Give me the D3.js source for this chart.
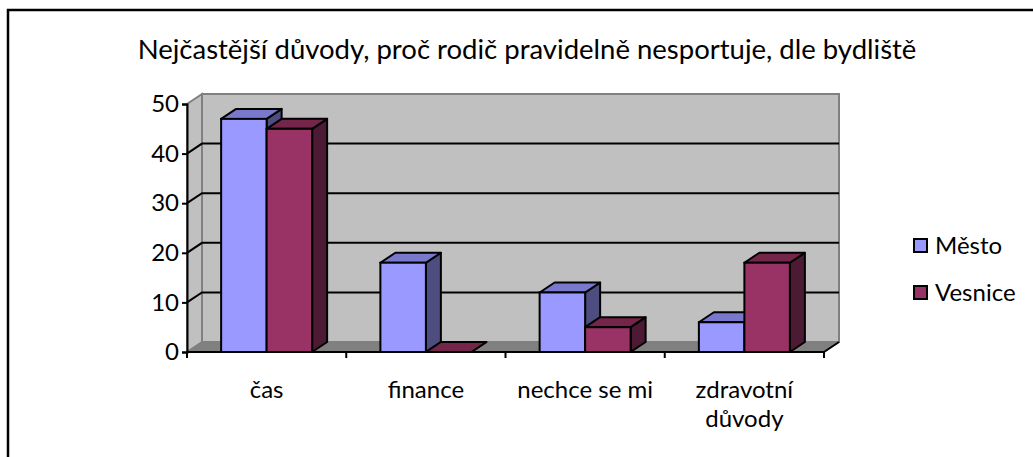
<!DOCTYPE html>
<html>
<head>
<meta charset="utf-8">
<script src="https://cdn.jsdelivr.net/npm/d3@7"></script>
<style>
  body { margin: 0; background: #fff; }
  text { font-family: Lato, "Open Sans", sans-serif; fill: #000; }
</style>
</head>
<body>
<svg id="chart" width="1033" height="457"></svg>
<script>
const title = 'Nejčastější důvody, proč rodič pravidelně nesportuje, dle bydliště';
const categories = ['čas', 'finance', 'nechce se mi', 'zdravotní důvody'];
const categoryLines = [['čas'], ['finance'], ['nechce se mi'], ['zdravotní', 'důvody']];
const series = ['Město', 'Vesnice'];
const mesto = [47, 18, 12, 6];
const vesnice = [45, 0, 5, 18];
const yTicks = [0, 10, 20, 30, 40, 50];

const colors = {
  'Město':   { front: '#9999ff', top: '#7878cc', side: '#4d4d80' },
  'Vesnice': { front: '#993366', top: '#732649', side: '#4d1a33' }
};

// depth of the fake 3d
const dx = 15, dy = -10;
const fs = '24px';

const svg = d3.select('#chart');

// outer frame (runs off the right/bottom of the picture)
svg.append('rect')
  .attr('x', 8).attr('y', 10)
  .attr('width', 1040).attr('height', 460)
  .attr('fill', 'none').attr('stroke', '#000').attr('stroke-width', 2.5);

svg.append('text')
  .attr('x', 527).attr('y', 59)
  .attr('text-anchor', 'middle')
  .style('font-size', '27.5px')
  .text(title);

const x = d3.scaleBand().domain(categories).range([187, 824]);
const y = d3.scaleLinear().domain([0, 50]).range([352, 104]);
const x0 = x.range()[0], x1 = x.range()[1];
const y0 = y(0), yTop = y(50);

// walls
svg.append('polygon')
  .attr('points', [[x0, y0], [x0, yTop], [x0 + dx, yTop + dy], [x0 + dx, y0 + dy]].join(' '))
  .attr('fill', '#c0c0c0').attr('stroke', '#808080').attr('stroke-width', 2);
svg.append('rect')
  .attr('x', x0 + dx).attr('y', yTop + dy)
  .attr('width', x1 - x0).attr('height', y0 - yTop)
  .attr('fill', '#c0c0c0').attr('stroke', '#808080').attr('stroke-width', 2);
// floor
svg.append('polygon')
  .attr('points', [[x0, y0], [x0 + dx, y0 + dy], [x1 + dx, y0 + dy], [x1, y0]].join(' '))
  .attr('fill', '#808080').attr('stroke', '#808080').attr('stroke-width', 1);

// gridlines on side + back wall
svg.selectAll('.grid')
  .data(yTicks.filter(d => d > 0 && d < 50))
  .enter().append('polyline')
  .attr('class', 'grid')
  .attr('points', d => [[x0, y(d)], [x0 + dx, y(d) + dy], [x1 + dx, y(d) + dy]].join(' '))
  .attr('fill', 'none').attr('stroke', '#000').attr('stroke-width', 2);

// bars
const bw = x.bandwidth() / 3.5;
const bars = [];
categories.forEach((c, i) => {
  bars.push({ s: 'Město', v: mesto[i], x: x(c) + 0.75 * bw });
  bars.push({ s: 'Vesnice', v: vesnice[i], x: x(c) + 1.75 * bw });
});

const g = svg.selectAll('.bar').data(bars).enter().append('g').attr('class', 'bar');
g.append('polygon') // side
  .attr('points', d => [[d.x + bw, y(d.v)], [d.x + bw + dx, y(d.v) + dy], [d.x + bw + dx, y0 + dy], [d.x + bw, y0]].join(' '))
  .attr('fill', d => colors[d.s].side).attr('stroke', '#000').attr('stroke-width', 2).attr('stroke-linejoin', 'round');
g.append('polygon') // top
  .attr('points', d => [[d.x, y(d.v)], [d.x + dx, y(d.v) + dy], [d.x + bw + dx, y(d.v) + dy], [d.x + bw, y(d.v)]].join(' '))
  .attr('fill', d => colors[d.s].top).attr('stroke', '#000').attr('stroke-width', 2).attr('stroke-linejoin', 'round');
g.append('rect') // front
  .attr('x', d => d.x).attr('y', d => y(d.v))
  .attr('width', bw).attr('height', d => y0 - y(d.v))
  .attr('fill', d => colors[d.s].front).attr('stroke', '#000').attr('stroke-width', 2);

// axes
const yAxis = d3.axisLeft(y).tickValues(yTicks).tickSize(5).tickPadding(3);
const ya = svg.append('g').attr('transform', `translate(${x0},0)`).call(yAxis);
ya.select('.domain').attr('stroke', '#000').attr('stroke-width', 2);
ya.selectAll('.tick line').attr('stroke', '#000').attr('stroke-width', 2);
ya.selectAll('.tick text').style('font-size', fs).style('font-family', 'Lato, sans-serif');

// x axis line + boundary ticks
svg.append('line')
  .attr('x1', x0).attr('y1', y0).attr('x2', x1).attr('y2', y0)
  .attr('stroke', '#000').attr('stroke-width', 2);
svg.append('line')
  .attr('x1', x1).attr('y1', y0).attr('x2', x1 + dx).attr('y2', y0 + dy)
  .attr('stroke', '#000').attr('stroke-width', 2);
svg.selectAll('.xtick')
  .data(categories.map(c => x(c)).concat([x1]))
  .enter().append('line')
  .attr('x1', d => d).attr('x2', d => d)
  .attr('y1', y0).attr('y2', y0 + 6)
  .attr('stroke', '#000').attr('stroke-width', 2);

svg.selectAll('.xlab')
  .data(categories)
  .enter().append('text')
  .attr('class', 'xlab')
  .attr('text-anchor', 'middle')
  .style('font-size', fs)
  .each(function (c, i) {
    categoryLines[i].forEach((line, k) => {
      d3.select(this).append('tspan')
        .attr('x', x(c) + x.bandwidth() / 2)
        .attr('y', 398 + k * 29)
        .text(line);
    });
  });

// legend
const leg = svg.append('g');
series.forEach((s, i) => {
  leg.append('rect')
    .attr('x', 914).attr('y', 239 + i * 47)
    .attr('width', 13).attr('height', 13)
    .attr('fill', colors[s].front).attr('stroke', '#000').attr('stroke-width', 2);
  leg.append('text')
    .attr('x', 935).attr('y', 254 + i * 47)
    .style('font-size', fs)
    .text(s);
});
</script>
</body>
</html>
